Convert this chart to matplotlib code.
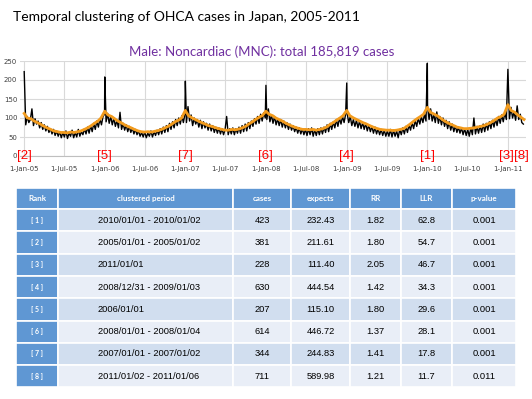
import matplotlib
matplotlib.use("Agg")
import matplotlib.pyplot as plt
from matplotlib.patches import Rectangle
import pandas as pd

# weekly readings of the daily counts (black), starting 2005-01-01, one list per year
black_2005 = [120, 82, 104, 88, 96, 124, 80, 98, 84, 92, 74, 88, 70, 82, 66, 78, 62, 72,
              58, 70, 54, 66, 52, 64, 48, 62, 50, 66, 46, 60, 52, 68, 48, 62, 50, 70, 52, 64, 56,
              72, 58, 76, 60, 80, 64, 86, 70, 92, 76, 98, 82, 104, 110]
black_2006 = [90, 112, 86, 104, 82, 100, 78, 94, 74, 115, 70, 86, 68, 82, 64, 78, 62,
              74, 58, 70, 56, 66, 52, 62, 50, 64, 48, 60, 52, 66, 50, 64, 54, 68, 56, 72, 58, 76, 62,
              80, 64, 86, 70, 90, 74, 96, 80, 100, 84, 106, 88, 110]
black_2007 = [88, 130, 92, 108, 80, 100, 84, 96, 76, 94, 72, 90, 74, 86, 68, 84, 66,
              80, 62, 76, 60, 74, 58, 72, 56, 70, 104, 56, 72, 58, 74, 56, 72, 60, 76, 60, 80, 64, 84,
              66, 88, 72, 92, 78, 98, 84, 104, 86, 110, 92, 114, 100]
black_2008 = [96, 124, 90, 108, 86, 104, 82, 98, 80, 96, 76, 92, 74, 88, 70, 84, 68,
              80, 64, 76, 60, 74, 58, 72, 56, 70, 54, 72, 56, 74, 52, 70, 54, 72, 56, 74, 58, 76, 62,
              82, 64, 86, 70, 90, 74, 96, 78, 100, 84, 104, 88, 110]
black_2009 = [112, 88, 104, 80, 96, 78, 94, 74, 92, 72, 88, 70, 86, 66, 82, 64, 78,
              60, 76, 58, 72, 56, 70, 54, 68, 52, 66, 52, 70, 50, 68, 52, 66, 48, 70, 56, 74, 58, 78,
              62, 82, 68, 88, 72, 94, 78, 100, 84, 104, 88, 110, 92]
black_2010 = [132, 96, 124, 92, 110, 88, 116, 86, 104, 82, 100, 78, 94, 72, 90, 68, 84,
              64, 80, 62, 76, 60, 74, 56, 72, 54, 70, 52, 74, 56, 100, 58, 78, 60, 80, 62, 84, 64, 86,
              68, 90, 72, 94, 76, 98, 80, 104, 86, 108, 90, 114, 96]
black_2011 = [130, 98, 128, 100, 116, 94, 132, 96, 110, 88, 84]

# new year's day peaks
peak_dates = ["2005-01-01", "2006-01-01", "2007-01-01", "2008-01-01",
              "2009-01-01", "2010-01-01", "2011-01-01"]
peak_values = [222, 208, 197, 186, 192, 244, 228]

# smoothed series (orange), 1st and 15th of each month
orange_2005 = [112, 100, 98, 92, 88, 84, 78, 74, 70, 66, 64, 62, 62, 61, 63, 62, 64, 66, 70, 74, 80, 86, 92, 100]
orange_2006 = [118, 108, 104, 98, 92, 88, 82, 78, 74, 70, 66, 64, 63, 64, 63, 65, 67, 70, 74, 78, 84, 90, 94, 100]
orange_2007 = [120, 106, 100, 96, 92, 88, 84, 80, 78, 75, 72, 70, 68, 68, 70, 69, 71, 74, 78, 84, 90, 96, 102, 106]
orange_2008 = [118, 110, 106, 100, 96, 92, 86, 82, 78, 75, 72, 70, 70, 69, 70, 68, 70, 72, 76, 82, 88, 94, 100, 106]
orange_2009 = [120, 106, 100, 96, 92, 88, 84, 80, 76, 73, 70, 69, 68, 68, 67, 68, 70, 72, 78, 84, 92, 98, 104, 110]
orange_2010 = [128, 115, 110, 106, 100, 94, 88, 84, 80, 76, 74, 72, 72, 73, 74, 76, 78, 80, 84, 88, 94, 100, 104, 110]
orange_2011 = [135, 120, 115, 108, 102, 96]

ranks = ["[ 1 ]", "[ 2 ]", "[ 3 ]", "[ 4 ]", "[ 5 ]", "[ 6 ]", "[ 7 ]", "[ 8 ]"]
periods = ["2010/01/01 - 2010/01/02", "2005/01/01 - 2005/01/02", "2011/01/01",
           "2008/12/31 - 2009/01/03", "2006/01/01", "2008/01/01 - 2008/01/04",
           "2007/01/01 - 2007/01/02", "2011/01/02 - 2011/01/06"]
cases = ["423", "381", "228", "630", "207", "614", "344", "711"]
expects = ["232.43", "211.61", "111.40", "444.54", "115.10", "446.72", "244.83", "589.98"]
rr = ["1.82", "1.80", "2.05", "1.42", "1.80", "1.37", "1.41", "1.21"]
llr = ["62.8", "54.7", "46.7", "34.3", "29.6", "28.1", "17.8", "11.7"]
pvalue = ["0.001", "0.001", "0.001", "0.001", "0.001", "0.001", "0.001", "0.011"]
headers = ["Rank", "clustered period", "cases", "expects", "RR", "LLR", "p-value"]

# label position on the chart for each cluster
label_dates = ["2010-01-01", "2005-01-01", "2011-01-01", "2009-01-01",
               "2006-01-01", "2008-01-01", "2007-01-01", "2011-01-02"]

W, H = 532, 399
fig = plt.figure(figsize=(W / 100, H / 100), dpi=100)
fig.patch.set_facecolor("white")

fig.text(13 / W, 1 - 17 / H, "Temporal clustering of OHCA cases in Japan, 2005-2011",
         fontsize=10, family="Lato", va="center", ha="left", color="black")
fig.text(262 / W, 1 - 52 / H, "Male: Noncardiac (MNC): total 185,819 cases",
         fontsize=9.5, family="Lato", va="center", ha="center", color="#7030A0")

# --- time series
black_vals = black_2005 + black_2006 + black_2007 + black_2008 + black_2009 + black_2010 + black_2011
weekly = pd.Series(black_vals, index=pd.date_range("2005-01-01", periods=len(black_vals), freq="7D"))
peaks = pd.Series(peak_values, index=pd.to_datetime(peak_dates))
daily = peaks.combine_first(weekly)

orange_vals = orange_2005 + orange_2006 + orange_2007 + orange_2008 + orange_2009 + orange_2010 + orange_2011
smooth = pd.Series(orange_vals, index=pd.date_range("2005-01-01", periods=len(orange_vals), freq="SMS"))

ax = fig.add_axes([20 / W, 1 - 156 / H, (526 - 20) / W, (156 - 61) / H])
ax.plot(daily.index, daily.values, color="black", lw=1.0, zorder=3)
ax.plot(smooth.index, smooth.values, color="#F29B1D", lw=2.0, zorder=4)

ax.set_ylim(0, 250)
ax.set_yticks(range(0, 251, 50))
ax.set_xlim(pd.Timestamp("2004-12-13"), pd.Timestamp("2011-03-24"))
ticks = pd.date_range("2005-01-01", "2011-01-01", freq="6MS")
ax.set_xticks(ticks)
ax.set_xticklabels([f"{d.day}-{d:%b-%y}" for d in ticks])
ax.grid(True, color="#D9D9D9", lw=0.8, zorder=0)
ax.tick_params(length=0, labelsize=5, labelcolor="#404040")
ax.tick_params(axis="x", pad=7)
ax.tick_params(axis="y", pad=2)
for s in ["top", "right", "left"]:
    ax.spines[s].set_visible(False)
ax.spines["bottom"].set_color("#BFBFBF")
ax.spines["bottom"].set_linewidth(0.8)

for lab, d in zip(ranks, label_dates):
    txt = "[" + lab.strip("[] ") + "]"
    ha, off = "center", 0
    if lab == "[ 3 ]":
        ha, off = "right", 4
    if lab == "[ 8 ]":
        ha, off = "left", 4
    ax.annotate(txt, (pd.Timestamp(d), 0), xytext=(off, 0), textcoords="offset points",
                ha=ha, va="center", color="#FF0000", fontsize=9.5, family="Liberation Sans",
                zorder=6, annotation_clip=False)

# --- table
tab = fig.add_axes([0, 0, 1, 1])
tab.set_xlim(0, W)
tab.set_ylim(H, 0)
tab.axis("off")

col_edges = [16, 58, 233, 291, 350, 401, 452, 516]
head_top, head_h = 188, 20.5
row_top, row_h = 209, 22.3
blue = "#5F97D3"
shade = ["#D1DEEF", "#E9EEF7"]

for j in range(len(headers)):
    x0, x1 = col_edges[j], col_edges[j + 1]
    tab.add_patch(Rectangle((x0, head_top), x1 - x0, head_h, facecolor=blue,
                            edgecolor="white", lw=1.2))
    tab.text((x0 + x1) / 2, head_top + head_h / 2, headers[j], ha="center", va="center",
             color="white", fontsize=5.8, family="Lato", fontweight="bold")

for i in range(len(ranks)):
    y0 = row_top + i * row_h
    yc = y0 + row_h / 2
    for j in range(len(headers)):
        x0, x1 = col_edges[j], col_edges[j + 1]
        fc = blue if j == 0 else shade[i % 2]
        tab.add_patch(Rectangle((x0, y0), x1 - x0, row_h, facecolor=fc,
                                edgecolor="white", lw=1.2))
    tab.text((col_edges[0] + col_edges[1]) / 2, yc, ranks[i], ha="center", va="center",
             color="white", fontsize=5, family="Lato", fontweight="bold")
    tab.text(98, yc, periods[i], ha="left", va="center", fontsize=6.7,
             family="Liberation Sans", color="black")
    for j, col in zip(range(2, 7), [cases, expects, rr, llr, pvalue]):
        tab.text((col_edges[j] + col_edges[j + 1]) / 2, yc, col[i], ha="center", va="center",
                 fontsize=6.7, family="Liberation Sans", color="black")

fig.savefig("out.png", dpi=100)
